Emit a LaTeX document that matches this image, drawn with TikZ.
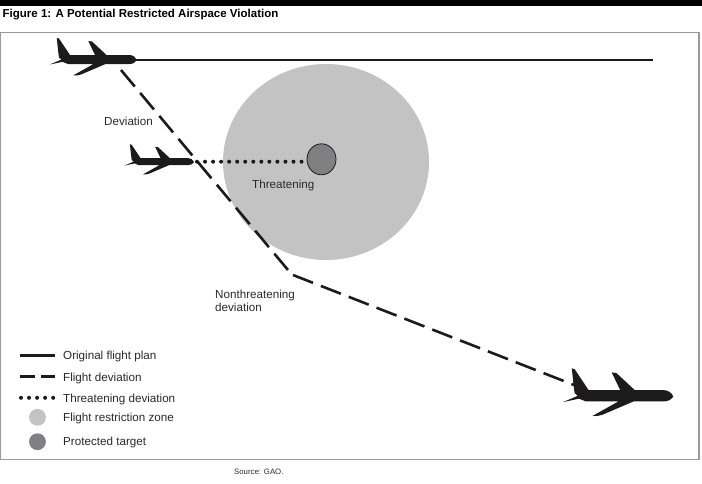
\documentclass[tikz,border=0pt]{standalone}
\usepackage{fontspec}
\usetikzlibrary{shapes.geometric}
\setmainfont{Liberation Sans}
\tikzset{
  plan/.style ={line width=2.6pt, color=planeblack},
  deviation/.style ={line width=2.6pt, color=planeblack, dash pattern=on 21.5pt off 8.4pt},
  threat/.style ={line width=4pt, color=planeblack, line cap=round, dash pattern=on 0pt off 8.04pt},
  zone/.style ={ellipse, fill=zonegray, inner sep=0pt},
  target/.style ={ellipse, draw=planeblack, fill=targetgray, inner sep=0pt, line width=0.8pt},
  legendtext/.style ={anchor=west, inner sep=0pt, font=\fontsize{11.65}{13}\selectfont, color=textgray},
  airplane/.pic ={
    \fill[planeblack] (137,60) .. controls (135.5,57) and (133,55) .. (129,55) -- (106.5,55)
      -- (92,41.5) -- (88.3,41) -- (95,55) -- (70,55) -- (59,38.5) -- (56.8,37.8)
      -- (58,50) -- (59,57.5) -- (61.5,59.5) -- (49.8,64.5) -- (62.5,61.8) -- (68,64) -- (93.6,64)
      -- (73,75.5) .. controls (76,75.7) and (78.5,75.4) .. (81,74.5) -- (105.5,64) -- (129,64) .. controls (133,64) and (135.5,62.5) .. (137,60) -- cycle;
  }
}
\definecolor{planeblack}{HTML}{1C1A1B}
\definecolor{zonegray}{HTML}{C4C3C3}
\definecolor{targetgray}{HTML}{808082}
\definecolor{framegray}{HTML}{9A9A9A}
\definecolor{textgray}{HTML}{2A2A2A}
\begin{document}
\begin{tikzpicture}[x=1pt, y=-1pt]
   \useasboundingbox (0,0) rectangle (702,483);
   \fill[white] (0,0) rectangle (702,483);
   \fill[black] (0,0) rectangle (702,6);
   \draw[framegray, line width=1.2pt] (0,32.5) rectangle (699,459.5);
   \node[anchor=west, inner sep=0pt, font=\bfseries\fontsize{11.5}{13}\selectfont] (title) at (2.5,14.5) {Figure 1: A Potential Restricted Airspace Violation};
   % zone and target
   \node[zone, minimum width=206pt, minimum height=196pt] (Z) at (326,162) {};
   \node[target, minimum width=29pt, minimum height=31pt] (T) at (321.5,159.3) {};
   % airplanes
   \pic at (0,0) {airplane};
   \pic[scale=0.8] at (84.5,114) {airplane};
   \pic[scale=1.265] at (500,320.5) {airplane};
   % route points
   \coordinate (N1) at (134,60);
   \coordinate (E1) at (653,60);
   \coordinate (D1) at (121,70);
   \coordinate (D2) at (288,270);
   \coordinate (D3) at (293,275);
   \coordinate (D4) at (574,385);
   \coordinate (N2) at (197,161.7);
   \coordinate (T2) at (301.6,161.7);
   \draw[plan] (N1) -- (E1);
   \draw[deviation] (D1) -- (D2);
   \draw[deviation] (D3) -- (D4);
   \draw[threat] (N2) -- (T2);
   % labels
   \node[legendtext] (dev) at (104,121.5) {Deviation};
   \node[legendtext] (thr) at (252,185.5) {Threatening};
   \node[legendtext, align=left] (non) at (215,301) {Nonthreatening\\[0.5pt]deviation};
   % legend
   \coordinate (L1a) at (20,355.7);
   \coordinate (L1b) at (55,355.7);
   \coordinate (L2a) at (20,376.2);
   \coordinate (L2b) at (55,376.2);
   \coordinate (L3a) at (21,397.8);
   \coordinate (L3b) at (55,397.8);
   \draw[plan] (L1a) -- (L1b);
   \draw[plan, dash pattern=on 14.5pt off 6.5pt] (L2a) -- (L2b);
   \draw[threat] (L3a) -- (L3b);
   \node[zone, minimum size=16.8pt] (LZ) at (37.5,417.3) {};
   \node[zone, fill=targetgray, minimum size=16.8pt] (LT) at (37.5,441.7) {};
   \node[legendtext] (t1) at (63,356) {Original flight plan};
   \node[legendtext] (t2) at (63,378) {Flight deviation};
   \node[legendtext] (t3) at (63,399) {Threatening deviation};
   \node[legendtext] (t4) at (63,418) {Flight restriction zone};
   \node[legendtext] (t5) at (63,442) {Protected target};
   \node[anchor=west, inner sep=0pt, font=\fontsize{7.8}{9}\selectfont, color=textgray] (src) at (234,472) {Source: GAO.};
\end{tikzpicture}
\end{document}
